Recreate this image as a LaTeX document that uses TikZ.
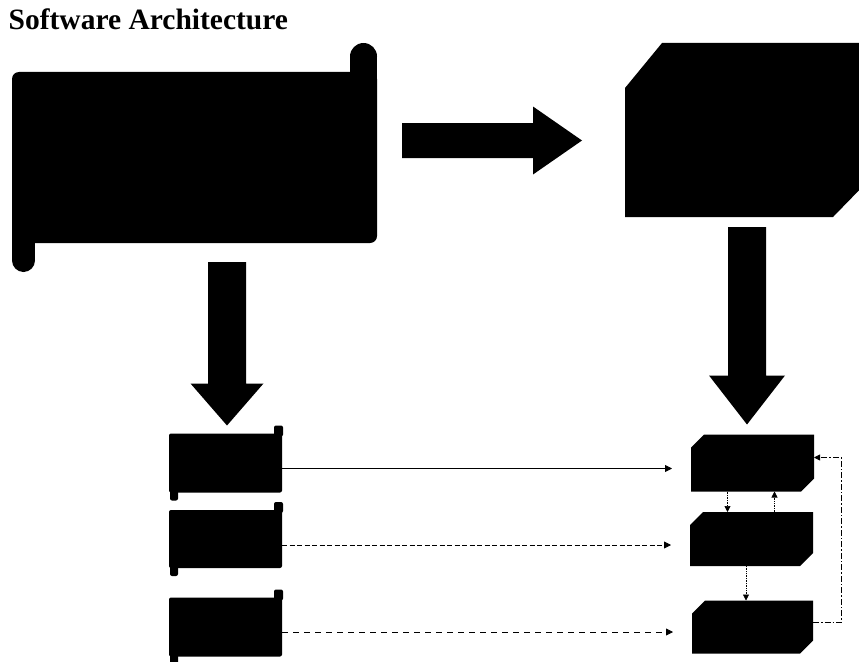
\documentclass[tikz,border=0pt]{standalone}
\usepackage{fontspec}
\setmainfont{Liberation Serif}
\usetikzlibrary{calc,arrows.meta}
\begin{document}
\begin{tikzpicture}[x=1pt,y=-1pt,
  blk/.style={fill=black,draw=none,inner sep=0pt,outer sep=0pt},
  scrollbody/.style={blk,rectangle,rounded corners=7pt,minimum width=365pt,minimum height=171pt},
  lbox/.style={blk,rectangle,rounded corners=2pt,minimum width=113pt,minimum height=59pt},
  anchorbox/.style={rectangle,draw=none,fill=none,inner sep=0pt,outer sep=0pt},
  link/.style={line width=0.8pt,-{Triangle[length=7pt,width=7pt]},shorten >=19pt},
  vlink/.style={line width=0.7pt,densely dotted,-{Triangle[length=6pt,width=6pt]}},
  fb/.style={line width=0.8pt,dash pattern=on 6pt off 2pt on 1.5pt off 2pt,-{Triangle[length=6pt,width=6pt]}}
]
\useasboundingbox (0,0) rectangle (859,661);
\clip (0,0) rectangle (859,661);

\node[anchor=base west,font=\bfseries\fontsize{29.5}{35}\selectfont,inner sep=0pt] (title) at (8.5,29.5) {Software Architecture};

% scroll
\node[scrollbody] (scroll) at (194.5,157.5) {};
\fill ($(scroll.north east)+(-13.5,-15.5)$) circle[radius=13.5pt];
\fill ($(scroll.north east)+(-27,-15.5)$) rectangle ($(scroll.north east)+(0,8)$);
\fill ($(scroll.south west)+(11.5,17.5)$) circle[radius=11.5pt];
\fill ($(scroll.south west)+(0,-8)$) rectangle ($(scroll.south west)+(23,17.5)$);

% top right snipped shape
\node[anchorbox,minimum width=245pt,minimum height=174pt] (mgr) at (747.5,130) {};
\fill ($(mgr.north west)+(37,0)$) -- (mgr.north east) -- ($(mgr.south east)+(0,-38)$) -- ($(mgr.south east)+(-37,0)$) -- (mgr.south west) -- ($(mgr.north west)+(0,45)$) -- cycle;

% left boxes
\node[lbox] (L1) at (225.5,463) {};
\node[lbox,minimum height=58pt] (L2) at (225.5,539) {};
\node[lbox] (L3) at (225.5,627) {};
\foreach \n in {L1,L2,L3} {
  \fill[rounded corners=2pt] ($(\n.north east)+(-8,3)$) rectangle ($(\n.north east)+(1,-8)$);
  \fill[rounded corners=2pt] ($(\n.south west)+(1,-3)$) rectangle ($(\n.south west)+(9,8)$);
}

% right boxes
\node[anchorbox,minimum width=123pt,minimum height=57pt] (R1) at (752.5,463) {};
\node[anchorbox,minimum width=123pt,minimum height=54pt] (R2) at (751.5,539) {};
\node[anchorbox,minimum width=121pt,minimum height=53pt] (R3) at (752.5,627) {};
\foreach \n in {R1,R2,R3} {
  \fill ($(\n.north west)+(13,0)$) -- (\n.north east) -- ($(\n.south east)+(0,-13)$) -- ($(\n.south east)+(-13,0)$) -- (\n.south west) -- ($(\n.north west)+(0,13)$) -- cycle;
}

% block arrows
\coordinate (a1s) at ($(scroll.south -| L1.north)+(1.5,19)$);
\coordinate (a1e) at ($(L1.north)+(1.5,-8)$);
\fill ($(a1s)+(-19,0)$) -- ($(a1s)+(19,0)$) -- ($(a1e)+(19,-42)$) -- ($(a1e)+(36.5,-42)$) -- (a1e) -- ($(a1e)+(-36.5,-42)$) -- ($(a1e)+(-19,-42)$) -- cycle;

\coordinate (a2s) at ($(mgr.south -| R1.north)+(-5.5,10)$);
\coordinate (a2e) at ($(R1.north)+(-5.5,-10)$);
\fill ($(a2s)+(-19,0)$) -- ($(a2s)+(19,0)$) -- ($(a2e)+(19,-49)$) -- ($(a2e)+(38,-49)$) -- (a2e) -- ($(a2e)+(-38,-49)$) -- ($(a2e)+(-19,-49)$) -- cycle;

\coordinate (a3s) at ($(scroll.east)+(25,-17)$);
\coordinate (a3e) at ($(a3s -| mgr.west)+(-43,0)$);
\fill ($(a3s)+(0,-17.5)$) -- ($(a3e)+(-49,-17.5)$) -- ($(a3e)+(-49,-34)$) -- (a3e) -- ($(a3e)+(-49,34)$) -- ($(a3e)+(-49,17.5)$) -- ($(a3s)+(0,17.5)$) -- cycle;

% horizontal links
\draw[link] ([yshift=-5.5pt]L1.east) -- ([yshift=-5.5pt]R1.west);
\draw[link,dash pattern=on 5pt off 2.5pt] ([yshift=-6pt]L2.east) -- ([yshift=-6pt]R2.west);
\draw[link,dash pattern=on 6pt off 5pt] ([yshift=-5pt]L3.east) -- ([yshift=-5pt]R3.west);

% vertical links
\coordinate (v1) at ($(R1.south)+(-25,0)$);
\draw[vlink] (v1) -- (v1 |- R2.north);
\coordinate (v2) at ($(R2.north)+(23,0)$);
\draw[vlink] (v2) -- (v2 |- R1.south);
\coordinate (v3) at ($(R2.south)+(-5.5,0)$);
\draw[vlink] (v3) -- (v3 |- R3.north);

% feedback loop
\draw[fb] ([yshift=4.5pt]R3.east) -- ++(28,0) |- ([yshift=5.5pt]R1.east);
\end{tikzpicture}
\end{document}
